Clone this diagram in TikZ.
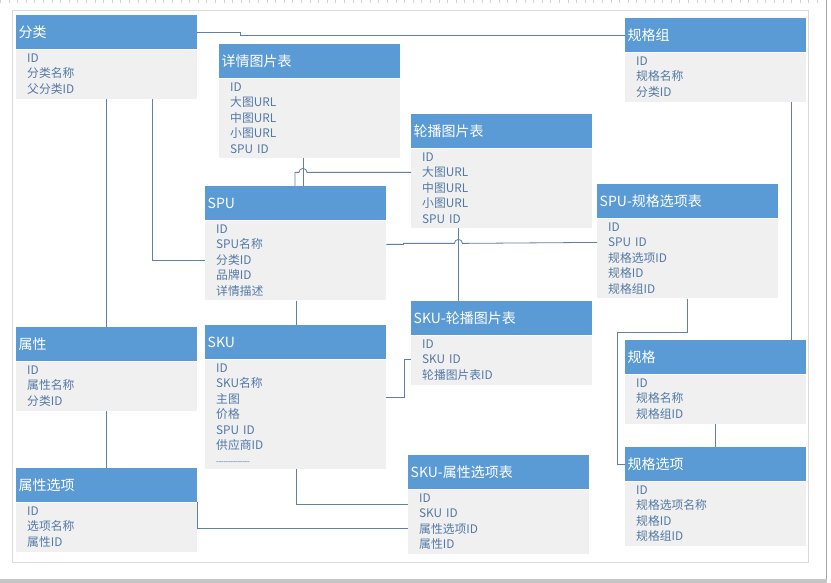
\documentclass[tikz,border=0pt]{standalone}
\usepackage{fontspec}
\setmainfont{Noto Sans CJK SC}
\usetikzlibrary{positioning}

\definecolor{hdrblue}{RGB}{91,155,213}
\definecolor{bdygray}{RGB}{240,240,240}
\definecolor{itemblue}{RGB}{82,120,166}
\definecolor{linkcol}{RGB}{96,128,165}
\definecolor{framecol}{RGB}{218,218,218}

\newcommand\dashrow{{\fontsize{8}{8}\selectfont\foreach\k in {1,...,14}{-\kern-0.4pt}}}

\begin{document}
\begin{tikzpicture}[
    x=1pt, y=-1pt,
    hdr/.style={fill=hdrblue, text=white, anchor=north west, minimum height=34pt,
                text width=176pt, inner xsep=2.5pt, align=left,
                font=\fontsize{14}{16}\selectfont},
    bdy/.style={fill=bdygray, text=itemblue, text width=159pt, inner xsep=11pt,
                inner ysep=4.3pt, align=left,
                font=\fontsize{11.8}{15.4}\selectfont},
    link/.style={draw=linkcol, line width=0.8pt},
]

% === Page frame ===
\useasboundingbox (0,0) rectangle (831,583);
\fill[white] (0,0) rectangle (831,583);
\draw[gray!35, line width=3pt, dash pattern=on 0.6pt off 8pt] (0,1.5) -- (826,1.5);
\draw[framecol, line width=0.8pt] (12,10) rectangle (808,562);
\draw[gray!70, line width=1pt] (826,0) -- (826,580);
\fill[gray!45] (0,579) rectangle (827,583);

% === Left column ===
\node[hdr] (fenlei) at (16,15) {分类};
\node[bdy, below=0pt of fenlei] (fenleib) {ID\\分类名称\\父分类ID};

\node[hdr] (shuxing) at (16,327) {属性};
\node[bdy, below=0pt of shuxing] (shuxingb) {ID\\属性名称\\分类ID};

\node[hdr] (sxxx) at (16,468) {属性选项};
\node[bdy, below=0pt of sxxx] (sxxxb) {ID\\选项名称\\属性ID};

% === Middle columns ===
\node[hdr] (xiangqing) at (219,44) {详情图片表};
\node[bdy, below=0pt of xiangqing] (xiangqingb) {ID\\大图URL\\中图URL\\小图URL\\SPU ID};

\node[hdr] (spu) at (205,186) {SPU};
\node[bdy, below=0pt of spu] (spub) {ID\\SPU名称\\分类ID\\品牌ID\\详情描述};

\node[hdr] (sku) at (205,325) {SKU};
\node[bdy, below=0pt of sku] (skub) {ID\\SKU名称\\主图\\价格\\SPU ID\\供应商ID\\\dashrow};

\node[hdr] (lunbo) at (411,114) {轮播图片表};
\node[bdy, below=0pt of lunbo] (lunbob) {ID\\大图URL\\中图URL\\小图URL\\SPU ID};

\node[hdr] (skulb) at (411,301) {SKU-轮播图片表};
\node[bdy, below=0pt of skulb] (skulbb) {ID\\SKU ID\\轮播图片表ID};

\node[hdr] (skusx) at (408,455) {SKU-属性选项表};
\node[bdy, below=0pt of skusx] (skusxb) {ID\\SKU ID\\属性选项ID\\属性ID};

% === Right columns ===
\node[hdr] (spugg) at (597,184) {SPU-规格选项表};
\node[bdy, below=0pt of spugg] (spuggb) {ID\\SPU ID\\规格选项ID\\规格ID\\规格组ID};

\node[hdr] (guigezu) at (625,18) {规格组};
\node[bdy, below=0pt of guigezu] (guigezub) {ID\\规格名称\\分类ID};

\node[hdr] (guige) at (625,340) {规格};
\node[bdy, below=0pt of guige] (guigeb) {ID\\规格名称\\规格组ID};

\node[hdr] (ggxx) at (625,447) {规格选项};
\node[bdy, below=0pt of ggxx] (ggxxb) {ID\\规格选项名称\\规格ID\\规格组ID};

% === Links: 分类 ===
\draw[link] (fenlei.east) -- ++(43,0) |- (guigezu.west);
\draw[link] ([xshift=136pt]fenleib.south west) |- ([yshift=-40pt]spub.north west);
\draw[link] ([xshift=90pt]fenleib.south west) -- ([xshift=90pt]shuxing.north west);
\draw[link] ([xshift=90pt]shuxingb.south west) -- ([xshift=90pt]sxxx.north west);

% === Links: SPU ===
\draw[link] ([xshift=84pt]xiangqingb.south west) -- ([xshift=98pt]spu.north west);
\draw[link] ([yshift=-24pt]lunbob.north west) -- ++(-104,0)
     arc[start angle=0, end angle=180, radius=4pt] -- ++(-4,0)
     -- ([xshift=90pt]spu.north west);
\draw[link] ([yshift=-24pt]spub.north east) -- ++(17,0) -- ++(0,-1) -- ++(51,0)
     arc[start angle=180, end angle=0, radius=4pt] -- ([yshift=-24pt]spuggb.north west);
\draw[link] ([xshift=47pt]lunbob.south west) -- ([xshift=47pt]skulb.north west);
\draw[link] ([xshift=91pt]spub.south west) -- ([xshift=91pt]sku.north west);

% === Links: SKU ===
\draw[link] ([yshift=-38pt]skub.north east) -- ++(18,0) |- ([yshift=-24pt]skulbb.north west);
\draw[link] ([xshift=91pt]skub.south west) |- ([yshift=-15pt]skusxb.north west);
\draw[link] (sxxx.south east) |- ([yshift=-39pt]skusxb.north west);

% === Links: 规格 ===
\draw[link] ([xshift=166pt]guigezub.south west) -- ([xshift=166pt]guige.north west);
\draw[link] ([xshift=90pt]spuggb.south west) -- ++(0,34) -- ++(-70,0) |- (ggxx.west);
\draw[link] ([xshift=90pt]guigeb.south west) -- ([xshift=90pt]ggxx.north west);

\end{tikzpicture}
\end{document}
